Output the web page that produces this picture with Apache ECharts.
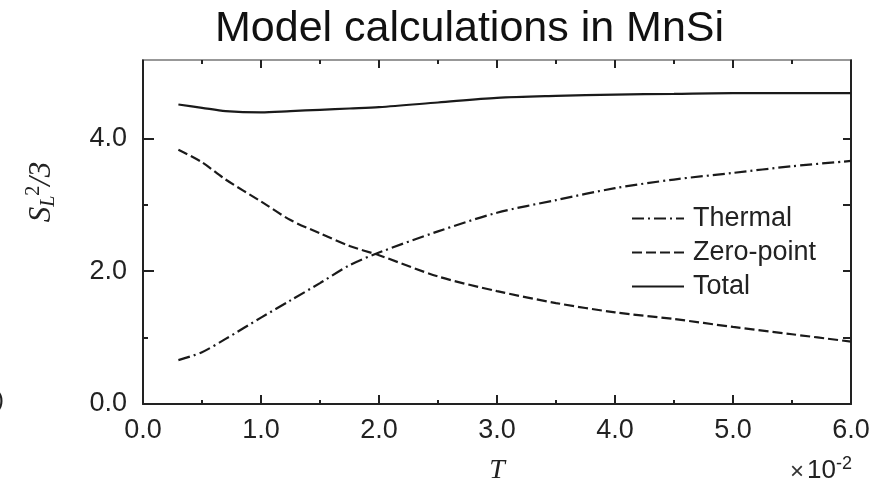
<!DOCTYPE html>
<html>
<head>
<meta charset="utf-8">
<script src="https://cdn.jsdelivr.net/npm/echarts@6/dist/echarts.min.js"></script>
<style>
html,body{margin:0;padding:0;background:#fff;}
#chart{width:881px;height:483px;}
</style>
</head>
<body>
<div id="chart"></div>
<script>
// 温度 T (x10^-2)
var tVals=[0.3,0.5,0.7,1.0,1.25,1.5,1.75,2.0,2.5,3.0,3.5,4.0,4.5,5.0,5.5,6.0];
var thermal=[0.66,0.78,0.98,1.30,1.56,1.82,2.09,2.28,2.60,2.88,3.07,3.25,3.38,3.48,3.58,3.66];
var zeroPoint=[3.83,3.64,3.38,3.05,2.77,2.57,2.38,2.24,1.92,1.70,1.52,1.38,1.28,1.16,1.05,0.94];
var total=[4.51,4.46,4.41,4.39,4.41,4.43,4.45,4.47,4.54,4.61,4.64,4.66,4.67,4.68,4.68,4.68];
var xLabels=[0,1,2,3,4,5,6];
var xMinor=[0.5,1.5,2.5,3.5,4.5,5.5];
var yLabels=[0,2,4];
var yMinor=[1,3];
var seriesNames=['Thermal','Zero-point','Total'];

function pairs(ys){
	var out=[];
	for(var i=0;i<tVals.length;i++){
		out.push([tVals[i],ys[i]]);
	}
	return out;
}

var myChart=echarts.init(document.getElementById('chart'));
var lineCol='#1a1a1a';
var axCol='#222';
var XMAX=6, YMAX=5.18;

var option={
	animation:false,
	title:{
		text:'Model calculations in MnSi',
		left:210,top:3,
		textStyle:{fontFamily:'Liberation Sans',fontSize:43,fontWeight:'normal',color:'#111'}
	},
	legend:{
		orient:'vertical',
		left:626,top:200,
		itemWidth:52,itemHeight:14,itemGap:7,
		data:seriesNames,
		itemStyle:{opacity:0},
		textStyle:{fontFamily:'Liberation Sans',fontSize:27,color:'#222',padding:[0,0,0,4]}
	},
	grid:{left:143,right:30,top:60,bottom:79},
	xAxis:[
		{//下轴 主刻度+标签
			type:'value',min:0,max:XMAX,position:'bottom',
			axisLine:{onZero:false,lineStyle:{color:axCol,width:2}},
			axisTick:{inside:true,length:9,customValues:xLabels,lineStyle:{color:axCol,width:2}},
			axisLabel:{customValues:xLabels,margin:13,fontFamily:'Liberation Sans',fontSize:27,color:'#222',
				formatter:function(v){return v.toFixed(1);}},
			splitLine:{show:false}
		},
		{//下轴 次刻度
			type:'value',min:0,max:XMAX,position:'bottom',
			axisLine:{show:false,onZero:false},
			axisTick:{inside:true,length:4,customValues:xMinor,lineStyle:{color:axCol,width:2}},
			axisLabel:{show:false},splitLine:{show:false}
		},
		{//上轴
			type:'value',min:0,max:XMAX,position:'top',
			axisLine:{show:true,onZero:false,lineStyle:{color:'#777',width:1.5}},
			axisTick:{inside:true,length:8,customValues:xLabels,lineStyle:{color:axCol,width:2}},
			axisLabel:{show:false},splitLine:{show:false}
		},
		{
			type:'value',min:0,max:XMAX,position:'top',
			axisLine:{show:false,onZero:false},
			axisTick:{inside:true,length:4,customValues:xMinor,lineStyle:{color:axCol,width:2}},
			axisLabel:{show:false},splitLine:{show:false}
		}
	],
	yAxis:[
		{//左轴
			type:'value',min:0,max:YMAX,position:'left',
			axisLine:{show:true,onZero:false,lineStyle:{color:axCol,width:2}},
			axisTick:{show:true,inside:true,length:11,customValues:yLabels,lineStyle:{color:axCol,width:2}},
			axisLabel:{customValues:yLabels,margin:16,fontFamily:'Liberation Sans',fontSize:27,color:'#222',
				formatter:function(v){return v.toFixed(1);}},
			splitLine:{show:false}
		},
		{
			type:'value',min:0,max:YMAX,position:'left',
			axisLine:{show:false,onZero:false},
			axisTick:{show:true,inside:true,length:5,customValues:yMinor,lineStyle:{color:axCol,width:2}},
			axisLabel:{show:false},splitLine:{show:false}
		},
		{//右轴
			type:'value',min:0,max:YMAX,position:'right',
			axisLine:{show:true,onZero:false,lineStyle:{color:axCol,width:2}},
			axisTick:{show:true,inside:true,length:8,customValues:[1,2,3,4],lineStyle:{color:axCol,width:2}},
			axisLabel:{show:false},splitLine:{show:false}
		}
	],
	graphic:[
		{
			type:'text',x:42,y:192,rotation:Math.PI/2,
			style:{
				text:'{s|S}{sub|L}{sup|2}{n|/3}',
				align:'center',verticalAlign:'middle',
				rich:{
					s:{fontFamily:'Liberation Serif',fontStyle:'italic',fontSize:31,fill:'#222'},
					sub:{fontFamily:'Liberation Serif',fontStyle:'italic',fontSize:20,fill:'#222',padding:[14,0,0,0]},
					sup:{fontFamily:'Liberation Serif',fontSize:20,fill:'#222',padding:[0,0,16,0]},
					n:{fontFamily:'Liberation Serif',fontStyle:'italic',fontSize:31,fill:'#222'}
				}
			}
		},
		{
			type:'text',x:497,y:471,
			style:{text:'T',align:'center',verticalAlign:'middle',fontFamily:'Liberation Serif',fontStyle:'italic',fontSize:28,fill:'#222'}
		},
		{
			type:'text',x:852,y:471,
			style:{
				text:'{m|×}{d|10}{e|-2}',
				align:'right',verticalAlign:'middle',
				rich:{
					m:{fontFamily:'Liberation Sans',fontSize:24,fill:'#333',padding:[2,3,0,0]},
					d:{fontFamily:'Liberation Sans',fontSize:26,fill:'#222'},
					e:{fontFamily:'Liberation Sans',fontSize:18,fill:'#222',padding:[0,0,14,0]}
				}
			}
		},
		{
			type:'text',x:-4,y:400,
			style:{text:')',verticalAlign:'middle',fontFamily:'Liberation Sans',fontSize:24,fill:'#222'}
		}
	],
	series:[
		{
			name:'Thermal',type:'line',smooth:0.3,symbol:'none',
			data:pairs(thermal),
			lineStyle:{color:lineCol,width:2.2,type:[12,4,2,4]},
			itemStyle:{color:lineCol}
		},
		{
			name:'Zero-point',type:'line',smooth:0.3,symbol:'none',
			data:pairs(zeroPoint),
			lineStyle:{color:lineCol,width:2.2,type:[10,4]},
			itemStyle:{color:lineCol}
		},
		{
			name:'Total',type:'line',smooth:0.3,symbol:'none',
			data:pairs(total),
			lineStyle:{color:lineCol,width:2.2,type:'solid'},
			itemStyle:{color:lineCol}
		}
	]
};
myChart.setOption(option);
</script>
</body>
</html>
